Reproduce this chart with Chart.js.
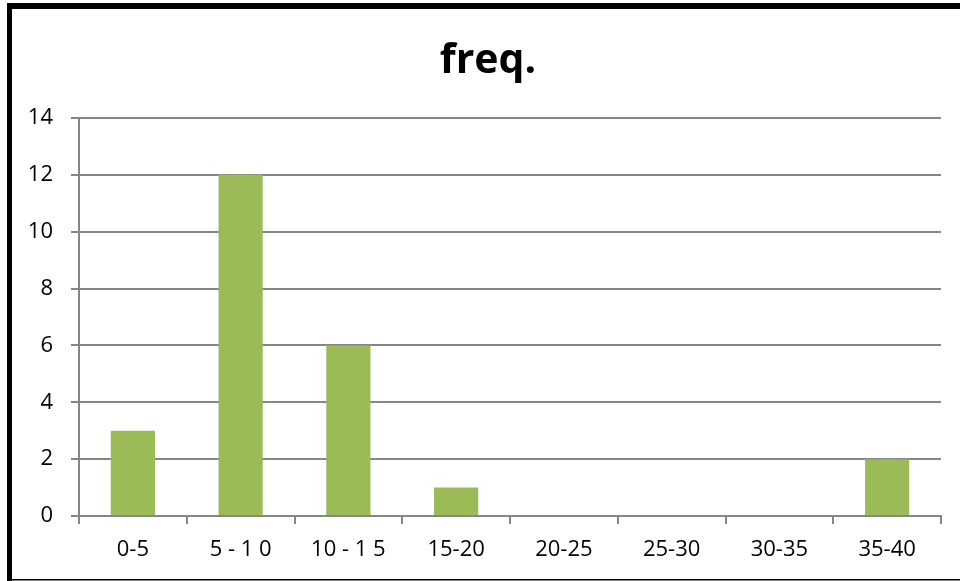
<!DOCTYPE html>
<html>
<head>
<meta charset="utf-8">
<script src="https://cdn.jsdelivr.net/npm/chart.js@4/dist/chart.umd.min.js"></script>
<style>
  html, body { margin: 0; padding: 0; background: #ffffff; }
  #wrap { width: 960px; height: 581px; position: relative; }
</style>
</head>
<body>
<div id="wrap"><canvas id="c" width="960" height="581"></canvas></div>
<script>
const categories = ["0-5", "5 - 1 0", "10 - 1 5", "15-20", "20-25", "25-30", "30-35", "35-40"];
const freqValues = [3, 12, 6, 1, 0, 0, 0, 2];
const yTickMin = 0;
const yTickMax = 14;
const yTickStep = 2;
const chartTitle = "freq.";

const framePlugin = {
  id: 'frameAndTitle',
  afterDraw(chart) {
    const ctx = chart.ctx;
    ctx.save();
    ctx.fillStyle = '#000000';
    ctx.font = "bold 41px 'Open Sans', sans-serif";
    ctx.textAlign = 'center';
    ctx.textBaseline = 'alphabetic';
    ctx.fillText(chartTitle, 488, 73);
    ctx.fillRect(7, 3, 953, 6);
    ctx.fillRect(7, 3, 5, 578);
    ctx.fillRect(7, 579, 953, 1.5);
    ctx.restore();
  }
};

new Chart(document.getElementById('c'), {
  type: 'bar',
  data: {
    labels: categories,
    datasets: [{
      label: chartTitle,
      data: freqValues,
      backgroundColor: '#9BBB59',
      borderWidth: 0,
      barPercentage: 0.41,
      categoryPercentage: 1.0
    }]
  },
  options: {
    responsive: false,
    animation: false,
    layout: { padding: { left: 12, right: 19, top: 118, bottom: 0 } },
    plugins: {
      legend: { display: false },
      tooltip: { enabled: false },
      title: { display: false }
    },
    scales: {
      x: {
        grid: {
          display: true,
          drawOnChartArea: false,
          drawTicks: true,
          offset: true,
          tickLength: 8,
          color: '#868686',
          lineWidth: 2
        },
        border: { display: true, color: '#868686', width: 2 },
        ticks: {
          color: '#000000',
          font: { family: "'Open Sans', sans-serif", size: 22 },
          padding: 13,
          maxRotation: 0,
          autoSkip: false
        },
        afterFit(scale) { scale.height = 65; }
      },
      y: {
        min: yTickMin,
        max: yTickMax,
        ticks: {
          stepSize: yTickStep,
          color: '#000000',
          font: { family: "'Open Sans', sans-serif", size: 22 },
          padding: 18
        },
        grid: {
          color: '#868686',
          lineWidth: 2,
          tickLength: 8,
          drawTicks: true
        },
        border: { display: true, color: '#868686', width: 2 },
        afterFit(scale) { scale.width = 67; }
      }
    }
  },
  plugins: [framePlugin]
});
</script>
</body>
</html>
